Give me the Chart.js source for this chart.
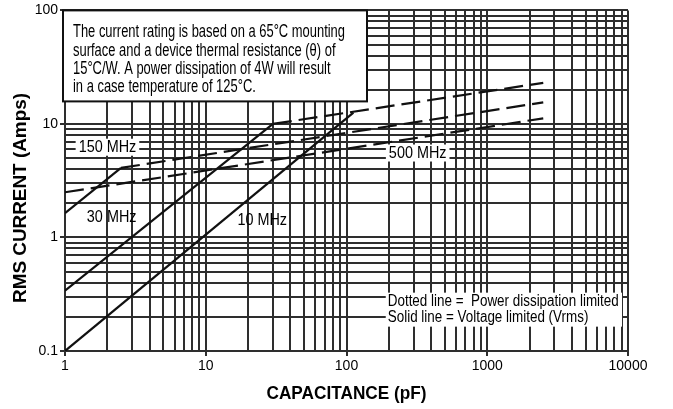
<!DOCTYPE html>
<html>
<head>
<meta charset="utf-8">
<script src="https://cdn.jsdelivr.net/npm/chart.js@4"></script>
<style>
  html, body { margin: 0; padding: 0; background: #fff; }
  canvas { display: block; }
</style>
</head>
<body>
<canvas id="grafico" width="673" height="409"></canvas>
<script>
// ---- datos (C en pF, I en A) ----
const c10MHz = [1, 112];
const i10MHz = [0.1, 12.6];
const c30MHz = [1, 30];
const i30MHz = [0.34, 10];
const c150MHz = [1, 2.5];
const i150MHz = [1.64, 4.1];

// limites por disipacion (punteadas)
const cPot30 = [30, 2500];
const iPot30 = [10, 23];
const cPot150 = [2.5, 2500];
const iPot150 = [4.1, 15.5];
const cPot500 = [1, 2500];
const iPot500 = [2.5, 11.2];

const xTickLabels = ['1', '10', '100', '1000', '10000'];
const yTickLabels = ['0.1', '1', '10', '100'];

const notaTexto = [
    'The current rating is based on a 65°C mounting',
    'surface and a device thermal resistance (θ) of',
    '15°C/W. A power dissipation of 4W will result',
    'in a case temperature of 125°C.'
];
const leyendaTexto = [
    'Dotted line =  Power dissipation limited',
    'Solid line = Voltage limited (Vrms)'
];

const FUENTE = "'Liberation Sans', Arial, sans-serif";
const NEGRO = '#111';
const GRILLA = '#2e2e2e';

function puntos(xs, ys) {
    return xs.map((x, i) => ({x: x, y: ys[i]}));
}

// valores de grilla logaritmica 1..9 por decada
function grillaLog(desde, hasta) {
    const v = [];
    for (let e = desde; e < hasta; e++) {
        for (let m = 1; m < 10; m++) v.push(parseFloat((m * Math.pow(10, e)).toPrecision(6)));
    }
    v.push(Math.pow(10, hasta));
    return v;
}

function esPotencia(v) {
    const l = Math.log10(v);
    return Math.abs(l - Math.round(l)) < 1e-9;
}

function serie(label, xs, ys, punteada) {
    return {
        label: label,
        data: puntos(xs, ys),
        showLine: true,
        borderColor: NEGRO,
        borderWidth: 2.2,
        borderDash: punteada ? [19, 7] : [],
        pointRadius: 0,
        fill: false
    };
}

// texto angosto (imita Helvetica Condensed): escala horizontal
function textoAngosto(ctx, txt, x, y, fuente, escala) {
    ctx.save();
    ctx.font = fuente;
    ctx.translate(x, y);
    ctx.scale(escala, 1);
    ctx.fillText(txt, 0, 0);
    ctx.restore();
}

const anotaciones = {
    id: 'anotaciones',
    afterDraw(chart) {
        const ctx = chart.ctx;
        const sx = chart.scales.x, sy = chart.scales.y;
        const area = chart.chartArea;
        ctx.save();
        ctx.textBaseline = 'middle';
        ctx.textAlign = 'left';

        // caja superior
        const bx = area.left - 2, by = area.top, bw = 304, bh = 91;
        ctx.fillStyle = '#fff';
        ctx.fillRect(bx, by, bw, bh);
        ctx.strokeStyle = NEGRO;
        ctx.lineWidth = 2;
        ctx.strokeRect(bx, by, bw, bh);
        ctx.fillStyle = '#000';
        const fNota = '17.5px ' + FUENTE;
        ctx.font = fNota;
        const escNota = 272 / ctx.measureText(notaTexto[0]).width;
        notaTexto.forEach((t, i) => textoAngosto(ctx, t, bx + 10, by + 22 + i * 18.4, fNota, escNota));

        // leyenda abajo a la derecha
        const lx = sx.getPixelForValue(190), ly = sy.getPixelForValue(0.32);
        ctx.fillStyle = '#fff';
        ctx.fillRect(lx, ly - 1, area.right - 6 - lx, 34);
        ctx.fillStyle = '#000';
        const fLey = '16px ' + FUENTE;
        ctx.font = fLey;
        const escLey = 231 / ctx.measureText(leyendaTexto[0]).width;
        leyendaTexto.forEach((t, i) => textoAngosto(ctx, t, lx + 2, ly + 8 + i * 15.5, fLey, escLey));

        // etiquetas de frecuencia
        function etiqueta(txt, c, amp, fondo) {
            const px = sx.getPixelForValue(c), py = sy.getPixelForValue(amp);
            const f = '16px ' + FUENTE;
            ctx.font = f;
            const w = ctx.measureText(txt).width * 0.9;
            if (fondo) {
                ctx.fillStyle = '#fff';
                ctx.fillRect(px - 3, py - 8, w + 6, 17);
            }
            ctx.fillStyle = '#000';
            textoAngosto(ctx, txt, px, py + 1, f, 0.9);
        }
        etiqueta('150 MHz', 1.25, 6.3, true);
        etiqueta('500 MHz', 200, 5.6, true);
        etiqueta('30 MHz', 1.43, 1.53, false);
        etiqueta('10 MHz', 16.8, 1.44, false);

        // titulos de ejes
        const fTit = 'bold 19px ' + FUENTE;
        ctx.font = fTit;
        const escX = 160 / ctx.measureText('CAPACITANCE (pF)').width;
        textoAngosto(ctx, 'CAPACITANCE (pF)', (area.left + area.right) / 2 - 80, 394, fTit, escX);
        ctx.font = fTit;
        const escY = 210 / ctx.measureText('RMS CURRENT (Amps)').width;
        ctx.translate(21, 198);
        ctx.rotate(-Math.PI / 2);
        textoAngosto(ctx, 'RMS CURRENT (Amps)', -105, 0, fTit, escY);
        ctx.restore();
    }
};

Chart.defaults.font.family = FUENTE;
Chart.defaults.color = '#000';

new Chart(document.getElementById('grafico'), {
    type: 'scatter',
    data: {
        datasets: [
            serie('10 MHz', c10MHz, i10MHz, false),
            serie('30 MHz', c30MHz, i30MHz, false),
            serie('150 MHz', c150MHz, i150MHz, false),
            serie('30 MHz (potencia)', cPot30, iPot30, true),
            serie('150 MHz (potencia)', cPot150, iPot150, true),
            serie('500 MHz', cPot500, iPot500, true)
        ]
    },
    options: {
        responsive: false,
        animation: false,
        layout: { padding: { left: 0, right: 45, top: 10, bottom: 0 } },
        plugins: { legend: { display: false }, tooltip: { enabled: false } },
        scales: {
            x: {
                type: 'logarithmic',
                min: 1,
                max: 10000,
                afterBuildTicks: s => { s.ticks = grillaLog(0, 4).map(v => ({value: v, major: esPotencia(v)})); },
                afterFit: s => { s.height = 58; },
                grid: {
                    color: GRILLA,
                    lineWidth: 2,
                    tickLength: 5,
                    tickColor: c => (c.tick && esPotencia(c.tick.value)) ? GRILLA : 'rgba(0,0,0,0)'
                },
                border: { color: GRILLA, width: 2 },
                ticks: {
                    autoSkip: false,
                    maxRotation: 0,
                    padding: 2,
                    font: { size: 14 },
                    callback: v => esPotencia(v) ? xTickLabels[Math.round(Math.log10(v))] : ''
                }
            },
            y: {
                type: 'logarithmic',
                min: 0.1,
                max: 100,
                afterBuildTicks: s => { s.ticks = grillaLog(-1, 2).map(v => ({value: v, major: esPotencia(v)})); },
                afterFit: s => { s.width = 65; },
                grid: {
                    color: GRILLA,
                    lineWidth: 2,
                    tickLength: 5,
                    tickColor: c => (c.tick && esPotencia(c.tick.value)) ? GRILLA : 'rgba(0,0,0,0)'
                },
                border: { color: GRILLA, width: 2 },
                ticks: {
                    autoSkip: false,
                    padding: 2,
                    font: { size: 14 },
                    callback: v => esPotencia(v) ? yTickLabels[Math.round(Math.log10(v)) + 1] : ''
                }
            }
        }
    },
    plugins: [anotaciones]
});
</script>
</body>
</html>
